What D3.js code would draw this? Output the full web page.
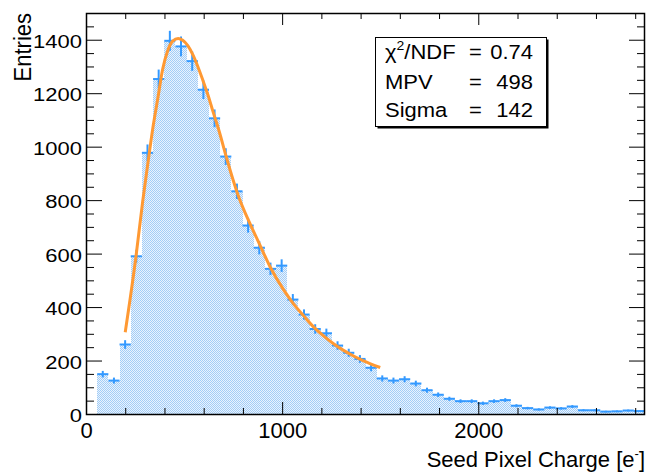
<!DOCTYPE html>
<html>
<head>
<meta charset="utf-8">
<script src="https://cdnjs.cloudflare.com/ajax/libs/d3/7.8.5/d3.min.js"></script>
<style>
  body { margin: 0; background: #fff; }
  svg { display: block; font-family: "Liberation Sans", Arial, Helvetica, sans-serif; }
</style>
</head>
<body>
<svg id="chart" width="647" height="472"></svg>
<script>
// histogram: 50 bins of 57 e- from 0 to 2850
var binWidth = 57;
var counts = [0, 149, 125, 260, 590, 977, 1253, 1396, 1375, 1320,
              1213, 1106, 963, 833, 705, 622, 543, 555, 428, 372,
              318, 302, 256, 229, 206, 173, 133, 125, 130, 114,
              89, 72, 57, 48, 48, 40, 48, 52, 31, 22,
              17, 24, 21, 28, 14, 14, 9, 10, 13, 11];

// landau fit, points (200 - 1500)
var fitX = [200, 255, 289, 315, 343, 366, 391, 417, 442, 470, 493, 519, 544, 570, 595, 621, 646, 680,
            714, 748, 782, 816, 850, 888, 939, 1007, 1058, 1109, 1160, 1211, 1262, 1313, 1364, 1415, 1500];
var fitY = [306, 590, 795, 935, 1080, 1180, 1290, 1360, 1395, 1405, 1398, 1378, 1345, 1300, 1250, 1195, 1135, 1055,
            965, 880, 805, 745, 690, 630, 550, 465, 412, 368, 326, 292, 263, 238, 217, 199, 174];

var xMajor = [0, 1000, 2000];
var xMinor = [200, 400, 600, 800, 1200, 1400, 1600, 1800, 2200, 2400, 2600, 2800];
var yMajor = [0, 200, 400, 600, 800, 1000, 1200, 1400];
var yMinor = [50, 100, 150, 250, 300, 350, 450, 500, 550, 650, 700, 750, 850, 900, 950,
              1050, 1100, 1150, 1250, 1300, 1350, 1450];

var statNames = ['MPV', 'Sigma'];
var statValues = ['498', '142'];
var chi2Value = '0.74';

var frameL = 86, frameR = 645, frameT = 13, frameB = 414;

var svg = d3.select('#chart');

var x = d3.scaleLinear().domain([0, 2850]).range([frameL, frameR]);
var y = d3.scaleLinear().domain([0, 1500]).range([frameB, frameT]);

// dotted fill like root's 3001 pattern
var pat = svg.append('defs').append('pattern')
    .attr('id', 'dots')
    .attr('patternUnits', 'userSpaceOnUse')
    .attr('width', 2).attr('height', 2);
pat.append('rect').attr('width', 2).attr('height', 2).style('fill', '#e9f3fe');
pat.append('rect').attr('x', 0).attr('y', 0).attr('width', 1).attr('height', 1).style('fill', '#a3cdf6');
pat.append('rect').attr('x', 1).attr('y', 1).attr('width', 1).attr('height', 1).style('fill', '#a3cdf6');

var bins = counts.map(function(c, i){ return {x0: i * binWidth, x1: (i + 1) * binWidth, n: c}; })
    .filter(function(d){ return d.n > 0; });

svg.append('g').selectAll('rect')
    .data(bins)
    .enter()
    .append('rect')
    .attr('x', function(d){ return x(d.x0); })
    .attr('y', function(d){ return y(d.n); })
    .attr('width', function(d){ return x(d.x1) - x(d.x0); })
    .attr('height', function(d){ return y(0) - y(d.n); })
    .style('fill', 'url(#dots)')
    .style('shape-rendering', 'crispEdges');

// error bars
var err = svg.append('g').style('stroke', '#3399ff').style('stroke-width', 2);
err.selectAll('line.h')
    .data(bins)
    .enter()
    .append('line')
    .attr('class', 'h')
    .attr('x1', function(d){ return x(d.x0); })
    .attr('x2', function(d){ return x(d.x1); })
    .attr('y1', function(d){ return y(d.n); })
    .attr('y2', function(d){ return y(d.n); });
err.selectAll('line.v')
    .data(bins)
    .enter()
    .append('line')
    .attr('class', 'v')
    .attr('x1', function(d){ return x((d.x0 + d.x1) / 2); })
    .attr('x2', function(d){ return x((d.x0 + d.x1) / 2); })
    .attr('y1', function(d){ return y(d.n - Math.sqrt(d.n)); })
    .attr('y2', function(d){ return y(d.n + Math.sqrt(d.n)); });

// fit curve
var line = d3.line()
    .x(function(d){ return x(d[0]); })
    .y(function(d){ return y(d[1]); })
    .curve(d3.curveMonotoneX);
svg.append('path')
    .datum(d3.zip(fitX, fitY))
    .attr('d', line)
    .style('fill', 'none')
    .style('stroke', '#ff9933')
    .style('stroke-width', 3);

// frame
svg.append('rect')
    .attr('x', frameL + 0.5).attr('y', frameT + 0.5)
    .attr('width', frameR - frameL - 1).attr('height', frameB - frameT)
    .style('fill', 'none').style('stroke', '#000').style('stroke-width', 1.5);

function tidy(g){
    g.select('.domain').remove();
    g.selectAll('line').style('stroke', '#000');
}

// bottom axis, ticks point inward
svg.append('g')
    .attr('transform', 'translate(0,' + frameB + ')')
    .call(d3.axisBottom(x).tickValues(xMajor).tickSize(-12).tickPadding(8).tickFormat(d3.format('d')))
    .call(tidy)
    .selectAll('text').style('font-size', '22px').style('fill', '#000')
    .style('font-family', '"Liberation Sans", Arial, sans-serif');
svg.append('g')
    .attr('transform', 'translate(0,' + frameB + ')')
    .call(d3.axisBottom(x).tickValues(xMinor).tickSize(-6).tickFormat(''))
    .call(tidy);
// top axis mirrors the bottom
svg.append('g')
    .attr('transform', 'translate(0,' + frameT + ')')
    .call(d3.axisBottom(x).tickValues(xMajor).tickSize(12).tickFormat(''))
    .call(tidy);
svg.append('g')
    .attr('transform', 'translate(0,' + frameT + ')')
    .call(d3.axisBottom(x).tickValues(xMinor).tickSize(6).tickFormat(''))
    .call(tidy);

// left axis
svg.append('g')
    .attr('transform', 'translate(' + frameL + ',0)')
    .call(d3.axisLeft(y).tickValues(yMajor).tickSize(-16).tickPadding(4).tickFormat(d3.format('d')))
    .call(tidy)
    .selectAll('text')
    .attr('dy', '0.4em')
    .attr('transform', 'scale(1,0.85)')
    .style('font-size', '22px').style('fill', '#000')
    .style('font-family', '"Liberation Sans", Arial, sans-serif');
svg.append('g')
    .attr('transform', 'translate(' + frameL + ',0)')
    .call(d3.axisLeft(y).tickValues(yMinor).tickSize(-8).tickFormat(''))
    .call(tidy);
// right axis
svg.append('g')
    .attr('transform', 'translate(' + frameR + ',0)')
    .call(d3.axisLeft(y).tickValues(yMajor).tickSize(16).tickFormat(''))
    .call(tidy);
svg.append('g')
    .attr('transform', 'translate(' + frameR + ',0)')
    .call(d3.axisLeft(y).tickValues(yMinor).tickSize(8).tickFormat(''))
    .call(tidy);

// axis titles
var xt = svg.append('text')
    .attr('x', frameR).attr('y', 467)
    .attr('text-anchor', 'end')
    .style('font-size', '22px');
xt.append('tspan').text('Seed Pixel Charge [e');
xt.append('tspan').attr('dy', -9).style('font-size', '13px').text('-');
xt.append('tspan').attr('dy', 9).text(']');

svg.append('text')
    .attr('transform', 'translate(31,13) rotate(-90) scale(1,1.1)')
    .attr('text-anchor', 'end')
    .style('font-size', '22px')
    .text('Entries');

// stats box with shadow
svg.append('rect')
    .attr('x', 377.5).attr('y', 39.5).attr('width', 171).attr('height', 89)
    .style('fill', '#000');
svg.append('rect')
    .attr('x', 375.5).attr('y', 37.5).attr('width', 171).attr('height', 89)
    .style('fill', '#fff').style('stroke', '#000').style('stroke-width', 1);

var rowY = [58.5, 88.5, 117];
var chi = svg.append('text')
    .attr('transform', 'translate(385,' + rowY[0] + ') scale(1,0.93)')
    .style('font-size', '22px');
chi.append('tspan').text('\u03c7');
chi.append('tspan').attr('dy', -9).style('font-size', '14px').text('2');
chi.append('tspan').attr('dy', 9).text('/NDF');

var names = ['chi'].concat(statNames);
var vals = [chi2Value].concat(statValues);
names.forEach(function(n, i){
    if (i > 0) {
        svg.append('text')
            .attr('transform', 'translate(385,' + rowY[i] + ') scale(1,0.93)')
            .style('font-size', '22px')
            .text(n);
    }
    svg.append('text')
        .attr('transform', 'translate(469,' + rowY[i] + ') scale(1,0.93)')
        .style('font-size', '22px')
        .text('=');
    svg.append('text')
        .attr('transform', 'translate(533,' + rowY[i] + ') scale(1,0.93)')
        .attr('text-anchor', 'end')
        .style('font-size', '22px')
        .text(vals[i]);
});
</script>
</body>
</html>
